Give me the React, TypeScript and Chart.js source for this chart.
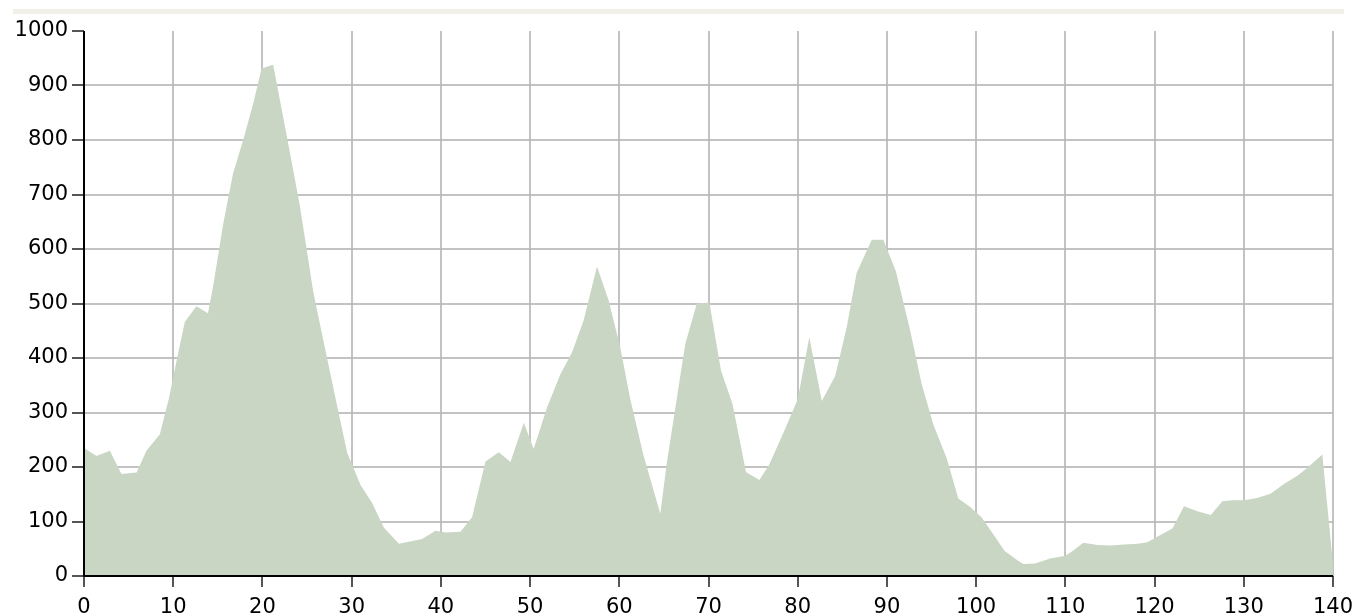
import { useEffect, useRef } from "react";
import { Chart, registerables } from "chart.js";

Chart.register(...registerables);

// distance along the route (km)
const distanceKm = [
  0, 1.4, 2.9, 4.2, 5.9, 7, 8.5, 9.5, 10.4, 11.3, 12.6, 13.9, 14.5, 15.6, 16.7, 17.9, 19, 19.9,
  21.2, 22.7, 24.2, 25.7, 27.2, 28.3, 29.5, 31, 32.3, 33.6, 35.3, 37.9, 39.4, 40.5, 42.2, 43.5,
  45, 46.5, 47.8, 49.3, 50.4, 51.9, 53.4, 54.7, 56, 57.5, 58.8, 60.1, 61.2, 62.7, 64.6, 65.3,
  66.4, 67.4, 68.7, 70.1, 71.4, 72.7, 74.2, 75.7, 76.8, 78.3, 80, 81.3, 82.7, 84.2, 85.5, 86.6,
  88.3, 89.6, 91, 92.6, 93.9, 95.2, 96.7, 98, 99.3, 100.6, 101.9, 103.2, 104.7, 105.3, 106.6,
  108.3, 110, 110.9, 112, 113.6, 115.1, 116.6, 118.1, 119.2, 120.3, 122, 123.3, 124.8, 126.3,
  127.6, 128.7, 130, 131.5, 133, 134.5, 136, 137.1, 138.8, 140,
];

// elevation (m)
const elevationM = [
  235, 220, 230, 187, 190, 230, 260, 325, 397, 466, 495, 482, 534, 646, 738, 803, 869, 931,
  938, 810, 679, 521, 403, 318, 226, 167, 134, 89, 59, 68, 83, 80, 81, 108,
  210, 227, 209, 281, 233, 309, 370, 410, 469, 568, 506, 420, 327, 222, 114, 204,
  321, 426, 500, 502, 377, 315, 191, 176, 204, 259, 324, 438, 321, 367, 457, 556,
  617, 617, 559, 451, 352, 278, 216, 142, 127, 108, 77, 46, 28, 22, 23,
  32, 37, 47, 61, 57, 56, 58, 59, 62, 72, 87, 128, 119, 112,
  137, 139, 139, 143, 151, 169, 184, 198, 223, 22,
];

const xTickValues = [0, 10, 20, 30, 40, 50, 60, 70, 80, 90, 100, 110, 120, 130, 140];
const yTickValues = [0, 100, 200, 300, 400, 500, 600, 700, 800, 900, 1000];

export default function App() {
  const canvasRef = useRef<HTMLCanvasElement>(null);

  useEffect(() => {
    const canvas = canvasRef.current;
    if (!canvas) return;

    const axisLines = {
      id: "axisLines",
      afterDatasetsDraw(chart: any) {
        const { ctx, chartArea } = chart;
        const { left, right, top, bottom } = chartArea;
        ctx.save();
        ctx.strokeStyle = "#000";
        ctx.lineWidth = 2;
        ctx.beginPath();
        ctx.moveTo(left, top);
        ctx.lineTo(left, bottom);
        ctx.lineTo(right, bottom);
        ctx.stroke();
        ctx.restore();
      },
    };

    const font = { family: "'DejaVu Sans', Verdana, sans-serif", size: 21 };
    const plain = (v: any) => String(v);

    const chart = new Chart(canvas, {
      type: "line",
      data: {
        datasets: [
          {
            data: distanceKm.map((x, i) => ({ x, y: elevationM[i] })),
            fill: "origin",
            backgroundColor: "#c9d6c4",
            borderColor: "#c9d6c4",
            borderWidth: 0,
            pointRadius: 0,
            tension: 0,
          },
        ],
      },
      options: {
        animation: false,
        responsive: false,
        events: [],
        plugins: { legend: { display: false }, tooltip: { enabled: false } },
        layout: { padding: { left: 0, right: 29, top: 31, bottom: 0 } },
        scales: {
          x: {
            type: "linear",
            min: 0,
            max: 140,
            afterBuildTicks: (s: any) => {
              s.ticks = xTickValues.map((v) => ({ value: v }));
            },
            afterFit: (s: any) => {
              s.height = 40;
            },
            ticks: { font, color: "#000", padding: 8, maxRotation: 0, autoSkip: false, callback: plain },
            grid: {
              color: "rgba(185,185,185,0.85)",
              lineWidth: 2,
              tickLength: 11,
              tickColor: "#555",
              tickWidth: 2,
            },
            border: { display: false },
          },
          y: {
            type: "linear",
            min: 0,
            max: 1000,
            afterBuildTicks: (s: any) => {
              s.ticks = yTickValues.map((v) => ({ value: v }));
            },
            afterFit: (s: any) => {
              s.width = 84;
            },
            ticks: { font, color: "#000", padding: 4, autoSkip: false, callback: plain },
            grid: {
              color: (c: any) =>
                c.tick && (c.tick.value === 1000 || c.tick.value === 0)
                  ? "rgba(0,0,0,0)"
                  : "rgba(185,185,185,0.85)",
              lineWidth: 2,
              tickLength: 12,
              tickColor: "#555",
              tickWidth: 2,
            },
            border: { display: false },
          },
        },
      },
      plugins: [axisLines],
    });

    return () => chart.destroy();
  }, []);

  return (
    <div style={{ position: "absolute", left: 0, top: 0, width: 1362, height: 616, background: "#fff" }}>
      <div
        style={{
          position: "absolute",
          left: 13,
          top: 9,
          width: 1331,
          height: 5,
          background: "#f0f0e8",
        }}
      />
      <canvas
        ref={canvasRef}
        width={1362}
        height={616}
        style={{ position: "absolute", left: 0, top: 0, width: 1362, height: 616 }}
      />
    </div>
  );
}
